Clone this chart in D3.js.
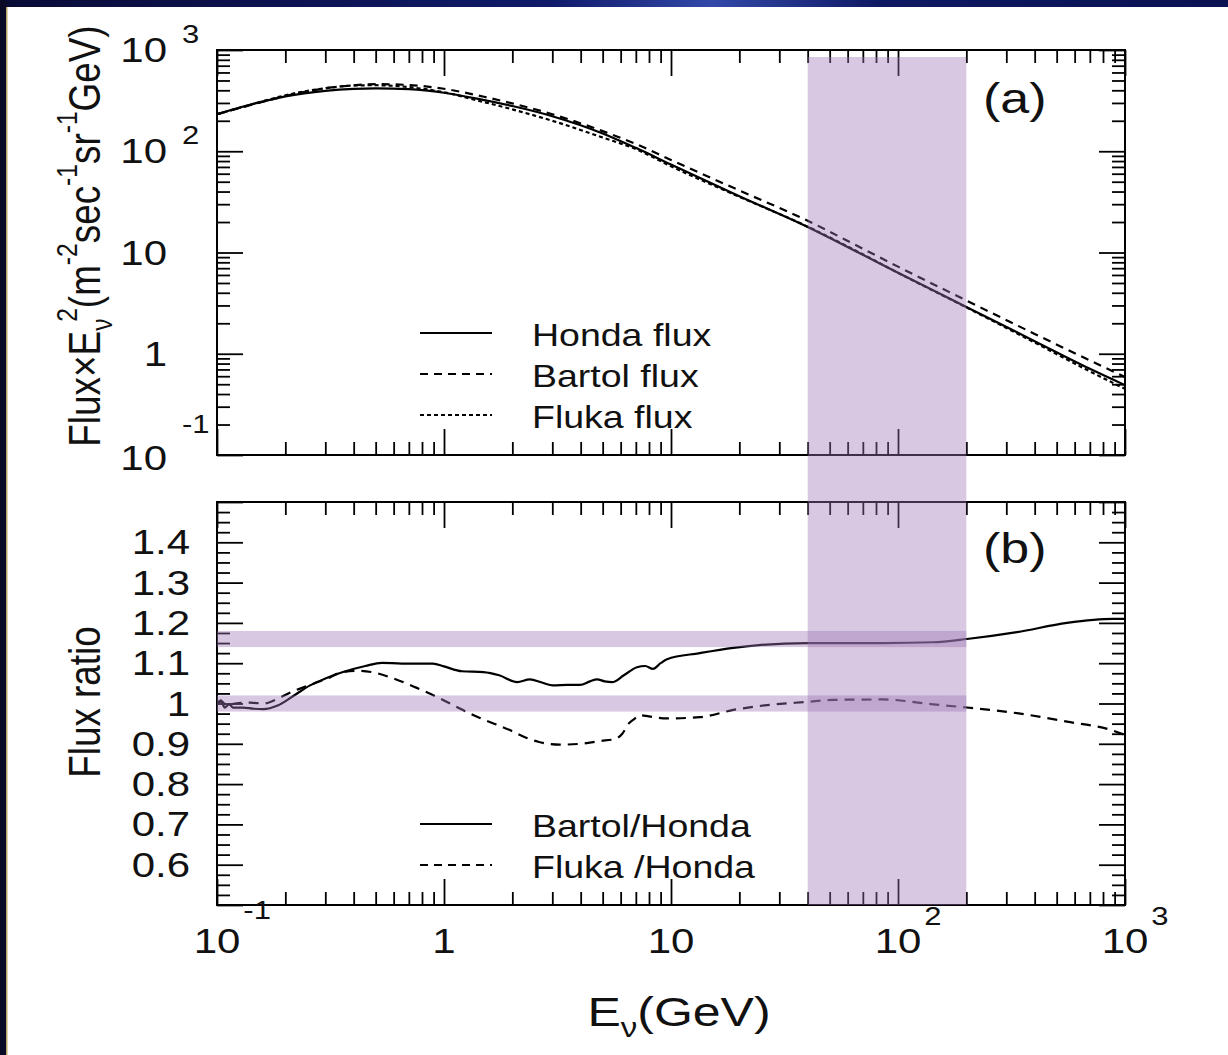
<!DOCTYPE html>
<html><head><meta charset="utf-8">
<script src="https://cdn.jsdelivr.net/npm/d3@7"></script>
<style>
body{margin:0;background:#fff}
svg{display:block}
text{font-family:"Liberation Sans",Arial,Helvetica,sans-serif;fill:#111}
</style>
</head><body>
<svg id="c" width="1228" height="1055"></svg>
<script>
// ---------------- data ----------------
const energyGrid = [0.1, 0.15, 0.2, 0.3, 0.4, 0.5, 0.7, 1, 1.5, 2, 3, 5, 7, 10, 20, 40, 70, 100, 200, 400, 700, 1000];
const hondaFlux  = [232, 300, 348, 395, 413, 418, 410, 378, 320, 280, 222, 150, 108, 74, 36, 17.9, 9.5, 6.3, 2.9, 1.33, 0.71, 0.49];
const bartolFlux = [232, 297, 351, 419, 448, 460, 451, 414, 345, 297, 232, 158, 118, 82, 41, 20.6, 10.9, 7.25, 3.36, 1.57, 0.86, 0.59];
const flukaFlux  = [232, 300, 357, 419, 446, 449, 430, 382, 306, 259, 200, 136.5, 105, 71, 35.5, 18, 9.6, 6.3, 2.87, 1.29, 0.67, 0.45];

const bartolRatioE = [0.1, 0.104, 0.108, 0.113, 0.118, 0.13, 0.145, 0.16, 0.185, 0.216, 0.257, 0.3, 0.359, 0.45, 0.533, 0.65, 0.894, 1.0, 1.2, 1.49, 1.75, 2.1, 2.39, 2.7, 3.02, 3.5, 3.97, 4.4, 4.72, 5.1, 5.5, 6.2, 7.08, 7.7, 8.33, 9.0, 9.6, 13.4, 18.8, 39.7, 85.9, 142.6, 201, 334, 555, 885, 1000];
const bartolRatio  = [1.0, 1.008, 0.99, 0.998, 0.99, 0.99, 0.987, 0.986, 0.995, 1.018, 1.045, 1.062, 1.078, 1.093, 1.101, 1.099, 1.099, 1.092, 1.08, 1.078, 1.07, 1.053, 1.06, 1.052, 1.045, 1.046, 1.046, 1.055, 1.06, 1.055, 1.053, 1.07, 1.09, 1.093, 1.086, 1.1, 1.11, 1.125, 1.138, 1.15, 1.15, 1.152, 1.16, 1.177, 1.2, 1.21, 1.21];

const flukaRatioE = [0.1, 0.105, 0.11, 0.12, 0.14, 0.16, 0.19, 0.216, 0.257, 0.3, 0.359, 0.42, 0.5, 0.6, 0.75, 0.95, 1.2, 1.44, 1.95, 2.3, 2.6, 3.24, 4.0, 4.87, 5.67, 6.1, 6.5, 6.9, 7.3, 8.0, 9.6, 13.4, 18.8, 26.5, 39.7, 51.7, 85.9, 142.6, 201, 334, 555, 859, 1000];
const flukaRatio  = [1.0, 1.005, 0.995, 1.0, 1.002, 1.0, 1.015, 1.03, 1.046, 1.06, 1.078, 1.081, 1.076, 1.062, 1.04, 1.014, 0.985, 0.964, 0.934, 0.915, 0.905, 0.898, 0.9, 0.907, 0.912, 0.925, 0.95, 0.962, 0.971, 0.968, 0.963, 0.966, 0.984, 0.996, 1.004, 1.009, 1.01, 0.998, 0.99, 0.976, 0.955, 0.935, 0.922];

const xMajorTicks = [0.1, 1, 10, 100, 1000];
const xTickLabels = [["10", "-1"], ["1", ""], ["10", ""], ["10", "2"], ["10", "3"]];
const fluxTicks = [1000, 100, 10, 1, 0.1];
const fluxTickLabels = [["10", "3"], ["10", "2"], ["10", ""], ["1", ""], ["10", "-1"]];
const ratioTicks = [1.4, 1.3, 1.2, 1.1, 1.0, 0.9, 0.8, 0.7, 0.6];
const ratioTickLabels = ["1.4", "1.3", "1.2", "1.1", "1", "0.9", "0.8", "0.7", "0.6"];

const energyBand = [40, 200];
const ratioBandBartol = [1.14, 1.18];
const ratioBandFluka = [0.98, 1.02];

const topLegend = ["Honda flux", "Bartol flux", "Fluka flux"];
const bottomLegend = ["Bartol/Honda", "Fluka /Honda"];

// ---------------- layout ----------------
const svg = d3.select("#c");
const L = 217, R = 1125, T1 = 50, B1 = 455, T2 = 502, B2 = 905;
const SY = 0.82;

const defs = svg.append("defs");
const grad = defs.append("linearGradient").attr("id", "topg").attr("x1", "0").attr("x2", "1");
grad.append("stop").attr("offset", "0").attr("stop-color", "#090b36");
grad.append("stop").attr("offset", "0.45").attr("stop-color", "#101a6a");
grad.append("stop").attr("offset", "0.58").attr("stop-color", "#3248a8");
grad.append("stop").attr("offset", "0.72").attr("stop-color", "#0f1862");
grad.append("stop").attr("offset", "1").attr("stop-color", "#0a1252");

svg.append("rect").attr("width", 1228).attr("height", 1055).attr("fill", "#fff");
svg.append("rect").attr("width", 1228).attr("height", 7).attr("fill", "url(#topg)");
svg.append("rect").attr("width", 7).attr("height", 1055).attr("fill", "#0a0a26");
svg.append("rect").attr("x", 6).attr("y", 7).attr("width", 1.5).attr("height", 1048).attr("fill", "#b8a468");

const x = d3.scaleLog().domain([0.1, 1000]).range([L, R]);
const yF = d3.scaleLog().domain([0.1, 1000]).range([B1, T1]);
const yR = d3.scaleLinear().domain([0.5, 1.5]).range([B2, T2]);

const logMinor = d3.merge([0.1, 1, 10, 100].map(d => d3.range(2, 10).map(k => d * k)));
const fluxMinor = logMinor;
const ratioMajor = d3.range(5, 16).map(k => k / 10);
const ratioMinor = d3.range(20, 61).map(k => k * 0.025).filter(v => Math.abs(v * 10 - Math.round(v * 10)) > 1e-6);

function mkAxis(axisFn, scale, pos, vals, size) {
  const g = svg.append("g").attr("transform", pos)
    .call(axisFn(scale).tickValues(vals).tickSize(-size).tickFormat(""));
  g.select(".domain").remove();
  g.selectAll("line").attr("stroke", "#000").attr("stroke-width", 1.8);
}
function panelAxes(yScale, yMajor, yMinor, top, bottom) {
  [[d3.axisTop, `translate(0,${top})`], [d3.axisBottom, `translate(0,${bottom})`]].forEach(([f, p]) => {
    mkAxis(f, x, p, xMajorTicks, 26);
    mkAxis(f, x, p, logMinor, 13);
  });
  [[d3.axisLeft, `translate(${L},0)`], [d3.axisRight, `translate(${R},0)`]].forEach(([f, p]) => {
    mkAxis(f, yScale, p, yMajor, 26);
    mkAxis(f, yScale, p, yMinor, 13);
  });
  svg.append("rect").attr("x", L).attr("y", top).attr("width", R - L).attr("height", bottom - top)
    .attr("fill", "none").attr("stroke", "#000").attr("stroke-width", 2);
}
panelAxes(yF, fluxTicks, fluxMinor, T1, B1);
panelAxes(yR, ratioMajor, ratioMinor, T2, B2);

// clip paths
defs.append("clipPath").attr("id", "clipTop").append("rect").attr("x", L).attr("y", T1).attr("width", R - L).attr("height", B1 - T1);
defs.append("clipPath").attr("id", "clipBot").append("rect").attr("x", L).attr("y", T2).attr("width", R - L).attr("height", B2 - T2);

// ---------------- curves ----------------
const lineTop = d3.line().x(d => x(d[0])).y(d => yF(d[1])).curve(d3.curveMonotoneX);
const lineBot = d3.line().x(d => x(d[0])).y(d => yR(d[1])).curve(d3.curveMonotoneX);
const gTop = svg.append("g").attr("clip-path", "url(#clipTop)");
const gBot = svg.append("g").attr("clip-path", "url(#clipBot)");

const topSeries = [
  {vals: hondaFlux, dash: null},
  {vals: bartolFlux, dash: "8,6"},
  {vals: flukaFlux, dash: "4,3"}
];
topSeries.forEach(s => {
  gTop.append("path").datum(energyGrid.map((e, i) => [e, s.vals[i]]))
    .attr("d", lineTop).attr("fill", "none").attr("stroke", "#000").attr("stroke-width", 2.2)
    .attr("stroke-dasharray", s.dash);
});

gBot.append("path").datum(bartolRatioE.map((e, i) => [e, bartolRatio[i]]))
  .attr("d", lineBot).attr("fill", "none").attr("stroke", "#000").attr("stroke-width", 2.2);
gBot.append("path").datum(flukaRatioE.map((e, i) => [e, flukaRatio[i]]))
  .attr("d", lineBot).attr("fill", "none").attr("stroke", "#000").attr("stroke-width", 2.2)
  .attr("stroke-dasharray", "10,7");

// ---------------- bands (overlay) ----------------
const bandFill = "rgb(158,118,183)", bandOp = 0.4;
svg.append("rect").attr("x", x(energyBand[0])).attr("y", 57)
  .attr("width", x(energyBand[1]) - x(energyBand[0])).attr("height", yR(0.5) - 57)
  .attr("fill", bandFill).attr("opacity", bandOp);
[ratioBandBartol, ratioBandFluka].forEach(b => {
  svg.append("rect").attr("x", x(0.1)).attr("y", yR(b[1]))
    .attr("width", x(energyBand[1]) - x(0.1)).attr("height", yR(b[0]) - yR(b[1]))
    .attr("fill", bandFill).attr("opacity", bandOp);
});

// ---------------- text helpers ----------------
function label(px, py, str, size, anchor) {
  const g = svg.append("g").attr("transform", `translate(${px},${py}) scale(1,${SY})`);
  return g.append("text").attr("x", 0).attr("y", 0).attr("font-size", size)
    .attr("text-anchor", anchor || "start").text(str);
}

// x tick labels
xMajorTicks.forEach((v, i) => {
  const [base, sup] = xTickLabels[i];
  const t = label(x(v), 953, base, 42, "middle");
  if (sup) {
    const w = t.node().getComputedTextLength();
    label(x(v) + w / 2 + 3, sup.startsWith("-") ? 919 : 925, sup, 31, "start");
  }
});
// top y tick labels
fluxTicks.forEach((v, i) => {
  const [base, sup] = fluxTickLabels[i];
  const neg = sup.startsWith("-");
  const by = yF(v) + (neg ? 15 : 12);
  label(167, by, base, 42, "end");
  if (sup) label(182, neg ? by - 37 : by - 19, sup, 31, "start");
});
// ratio tick labels
ratioTicks.forEach((v, i) => label(190, yR(v) + 12, ratioTickLabels[i], 42, "end"));

// panel labels
label(983, 113, "(a)", 52, "start");
label(983, 563, "(b)", 52, "start");

// legends
const topDash = [null, "8,6", "4,3"];
topLegend.forEach((s, i) => {
  const ly = 333 + i * 41;
  svg.append("line").attr("x1", 420).attr("x2", 492).attr("y1", ly).attr("y2", ly)
    .attr("stroke", "#000").attr("stroke-width", 2).attr("stroke-dasharray", topDash[i]);
  label(532, ly + 13, s, 37.5, "start");
});
const botDash = [null, "8,6"];
bottomLegend.forEach((s, i) => {
  const ly = 824 + i * 41;
  svg.append("line").attr("x1", 420).attr("x2", 492).attr("y1", ly).attr("y2", ly)
    .attr("stroke", "#000").attr("stroke-width", 2).attr("stroke-dasharray", botDash[i]);
  label(532, ly + 13, s, 37.5, "start");
});

// x axis title
{
  const g = svg.append("g").attr("transform", `translate(679,1026) scale(1,${SY})`);
  const t = g.append("text").attr("font-size", 50).attr("text-anchor", "middle");
  t.append("tspan").text("E");
  t.append("tspan").attr("font-size", 33).attr("dy", 14).text("ν");
  t.append("tspan").attr("dy", -14).text("(GeV)");
}
// y axis titles (rotated)
{
  const g = svg.append("g").attr("transform", `translate(100,236) rotate(-90) scale(${SY},1)`);
  const t = g.append("text").attr("font-size", 45).attr("text-anchor", "middle");
  const parts = [
    ["Flux×E", 0, null], ["ν", 12, 30], ["2", -35, 30], ["(m", 23, null], ["-2", -23, 30],
    ["sec", 23, null], ["-1", -23, 30], ["sr", 23, null], ["-1", -23, 30], ["GeV)", 23, null]
  ];
  parts.forEach(([s, dy, fs], i) => {
    const ts = t.append("tspan").text(s);
    if (dy) ts.attr("dy", dy);
    if (fs) ts.attr("font-size", fs);
    if (s === "2") ts.attr("dx", -4);
  });
}
{
  const g = svg.append("g").attr("transform", `translate(100,702) rotate(-90) scale(${SY},1)`);
  g.append("text").attr("font-size", 45).attr("text-anchor", "middle").text("Flux ratio");
}
</script>
</body></html>
